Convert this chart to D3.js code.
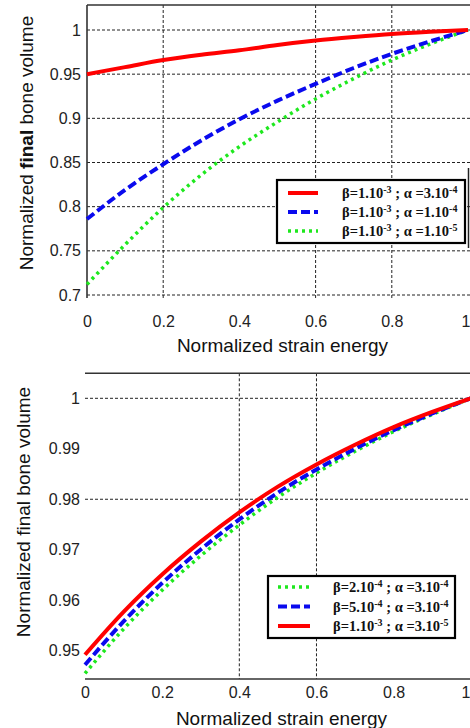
<!DOCTYPE html>
<html>
<head>
<meta charset="utf-8">
<script src="https://cdn.jsdelivr.net/npm/d3@7"></script>
<style>
  html, body { margin: 0; padding: 0; background: #fff; }
  svg { display: block; }
</style>
</head>
<body>
<svg id="chart" width="470" height="728"></svg>
<script>
// ---------------- DATA ----------------
const xValues = [0, 0.1, 0.2, 0.3, 0.4, 0.5, 0.6, 0.7, 0.8, 0.9, 1.0];

// Top panel (beta = 1e-3, varying alpha)
const topRed   = [0.950, 0.958, 0.966, 0.972, 0.977, 0.983, 0.988, 0.992, 0.9955, 0.998, 1.0];
const topBlue  = [0.786, 0.819, 0.848, 0.875, 0.899, 0.920, 0.939, 0.957, 0.973, 0.987, 1.0];
const topGreen = [0.712, 0.757, 0.799, 0.836, 0.868, 0.896, 0.922, 0.945, 0.966, 0.984, 1.0];

// Bottom panel (alpha = 3e-4, varying beta)
const botRed   = [0.9492, 0.9577, 0.9651, 0.9716, 0.9774, 0.9825, 0.9869, 0.9908, 0.9943, 0.9973, 1.0];
const botBlue  = [0.9472, 0.9558, 0.9634, 0.97005, 0.9760, 0.9813, 0.9859, 0.9900, 0.9937, 0.9970, 1.0];
const botGreen = [0.9455, 0.9543, 0.9620, 0.9688, 0.9749, 0.9804, 0.9852, 0.9895, 0.9934, 0.9968, 1.0];

const xTicks = [0, 0.2, 0.4, 0.6, 0.8, 1];
const xTickLabels = ["0", "0.2", "0.4", "0.6", "0.8", "1"];
const topYTicks = [0.7, 0.75, 0.8, 0.85, 0.9, 0.95, 1];
const topYTickLabels = ["0.7", "0.75", "0.8", "0.85", "0.9", "0.95", "1"];
const botYTicks = [0.95, 0.96, 0.97, 0.98, 0.99, 1];
const botYTickLabels = ["0.95", "0.96", "0.97", "0.98", "0.99", "1"];

const topVGrid = [0.2, 0.6, 0.8];
const topHGrid = [0.7, 0.75, 0.8, 0.85, 0.9, 0.95, 1];
const botVGrid = [0.4, 0.6];
const botHGrid = [0.98, 1];

// legend: [beta mantissa, beta exp, alpha mantissa, alpha exp]
const topLegend = [
  ["1.10", "-3", "3.10", "-4"],
  ["1.10", "-3", "1.10", "-4"],
  ["1.10", "-3", "1.10", "-5"]
];
const botLegend = [
  ["2.10", "-4", "3.10", "-4"],
  ["5.10", "-4", "3.10", "-4"],
  ["1.10", "-3", "3.10", "-5"]
];

const xTitle = "Normalized strain energy";

// ---------------- STYLES ----------------
const RED = "#ff0000", BLUE = "#0a0aee", GREEN = "#1ee81e";
const styles = {
  red:   { color: RED,   width: 4,   dash: null },
  blue:  { color: BLUE,  width: 4,   dash: "9,4" },
  green: { color: GREEN, width: 3.5, dash: "3,4" }
};

const svg = d3.select("#chart");
const sans = "'Liberation Sans', Arial, Helvetica, sans-serif";
const serif = "'Liberation Serif', 'Times New Roman', serif";
const gridColor = "#222";

function drawPanel(cfg) {
  const g = svg.append("g");
  const x = d3.scaleLinear().domain([0, 1]).range([cfg.x0, cfg.x1]);
  const y = d3.scaleLinear().domain(cfg.yDomain).range(cfg.yRange);

  // gridlines
  g.selectAll(".hg").data(cfg.hGrid).join("line")
    .attr("x1", cfg.x0).attr("x2", 470)
    .attr("y1", d => y(d)).attr("y2", d => y(d))
    .attr("stroke", gridColor).attr("stroke-width", 1)
    .attr("stroke-dasharray", "3,2");
  g.selectAll(".vg").data(cfg.vGrid).join("line")
    .attr("x1", d => x(d)).attr("x2", d => x(d))
    .attr("y1", cfg.frameTop).attr("y2", cfg.frameBottom)
    .attr("stroke", gridColor).attr("stroke-width", 1)
    .attr("stroke-dasharray", "3,2");

  // frame
  g.append("line").attr("x1", cfg.x0).attr("x2", 470)
    .attr("y1", cfg.frameTop).attr("y2", cfg.frameTop)
    .attr("stroke", "#333").attr("stroke-width", 1.6);
  if (cfg.leftAxis) {
    g.append("line").attr("x1", cfg.x0).attr("x2", cfg.x0)
      .attr("y1", cfg.frameTop).attr("y2", cfg.frameBottom)
      .attr("stroke", "#333").attr("stroke-width", 1.6);
  }
  if (cfg.bottomAxis) {
    g.append("line").attr("x1", cfg.x0).attr("x2", 470)
      .attr("y1", cfg.frameBottom).attr("y2", cfg.frameBottom)
      .attr("stroke", "#333").attr("stroke-width", 1.6);
  }

  // y axis labels
  const yAxis = d3.axisLeft(y).tickValues(cfg.yTicks)
    .tickFormat((d, i) => cfg.yTickLabels[i]).tickSize(0).tickPadding(cfg.yPad);
  const ya = g.append("g").attr("transform", `translate(${cfg.x0},0)`).call(yAxis);
  ya.select(".domain").remove();
  ya.selectAll("text").attr("font-family", sans).attr("font-size", 16).attr("fill", "#222");

  // x axis labels
  const xAxis = d3.axisBottom(x).tickValues(xTicks)
    .tickFormat((d, i) => xTickLabels[i]).tickSize(0).tickPadding(cfg.xPad);
  const xa = g.append("g").attr("transform", `translate(0,${cfg.frameBottom})`).call(xAxis);
  xa.select(".domain").remove();
  xa.selectAll("text").attr("font-family", sans).attr("font-size", 16).attr("fill", "#222");
  // keep the last label (at the clipped right edge) inside the page
  xa.selectAll("text").filter(d => d === 1)
    .attr("text-anchor", "end").attr("dx", cfg.lastDx);

  // axis titles
  g.append("text").attr("x", (cfg.x0 + 470) / 2 + 4).attr("y", cfg.xTitleY)
    .attr("text-anchor", "middle").attr("font-family", sans).attr("font-size", 19)
    .attr("fill", "#111").text(xTitle);
  const yt = g.append("text")
    .attr("transform", `translate(${cfg.yTitleX},${cfg.yTitleY}) rotate(-90)`)
    .attr("text-anchor", "middle").attr("font-family", sans).attr("font-size", 19)
    .attr("fill", "#111");
  yt.append("tspan").text("Normalized ");
  yt.append("tspan").attr("font-weight", cfg.boldFinal ? "bold" : "normal").text("final");
  yt.append("tspan").text(" bone volume");

  // curves
  const line = d3.line().x((d, i) => x(xValues[i])).y(d => y(d)).curve(d3.curveMonotoneX);
  cfg.series.forEach(s => {
    const st = styles[s.style];
    g.append("path").datum(s.values)
      .attr("d", line).attr("fill", "none")
      .attr("stroke", st.color).attr("stroke-width", st.width)
      .attr("stroke-dasharray", st.dash);
  });

  // legend
  const L = cfg.legend;
  g.append("rect").attr("x", L.x).attr("y", L.y).attr("width", L.w).attr("height", L.h)
    .attr("fill", "#fff").attr("stroke", "#000").attr("stroke-width", 2.2);
  L.entries.forEach((e, i) => {
    const st = styles[e.style];
    const cy = L.y + L.rowStart + i * L.rowGap;
    g.append("line").attr("x1", L.sx0).attr("x2", L.sx1).attr("y1", cy).attr("y2", cy)
      .attr("stroke", st.color).attr("stroke-width", st.width)
      .attr("stroke-dasharray", st.dash);
    const t = g.append("text").attr("x", L.tx).attr("y", cy + 5)
      .attr("font-family", serif).attr("font-weight", "bold").attr("font-size", 14.5)
      .attr("fill", "#111");
    const lab = e.label;
    t.append("tspan").text("\u03b2=" + lab[0]);
    t.append("tspan").attr("dy", -5).attr("font-size", 10).text(lab[1]);
    t.append("tspan").attr("dy", 5).text(" ; \u03b1 =" + lab[2]);
    t.append("tspan").attr("dy", -5).attr("font-size", 10).text(lab[3]);
  });
  if (L.sideLine) {
    g.append("line").attr("x1", 468.5).attr("x2", 468.5)
      .attr("y1", L.sideLine[0]).attr("y2", L.sideLine[1])
      .attr("stroke", "#222").attr("stroke-width", 1.5);
  }
}

// Top panel
drawPanel({
  x0: 87, x1: 468,
  yDomain: [0.7, 1], yRange: [295, 30],
  frameTop: 5, frameBottom: 298,
  leftAxis: true, bottomAxis: false,
  hGrid: topHGrid, vGrid: topVGrid,
  yTicks: topYTicks, yTickLabels: topYTickLabels, yPad: 6, xPad: 18, lastDx: 2,
  xTitleY: 352, yTitleX: 33, yTitleY: 143, boldFinal: true,
  series: [
    { values: topGreen, style: "green" },
    { values: topBlue, style: "blue" },
    { values: topRed, style: "red" }
  ],
  legend: {
    x: 277, y: 180, w: 188, h: 63, rowStart: 13, rowGap: 19,
    sx0: 288, sx1: 318, tx: 342, sideLine: [168, 248],
    entries: [
      { style: "red", label: topLegend[0] },
      { style: "blue", label: topLegend[1] },
      { style: "green", label: topLegend[2] }
    ]
  }
});

// Bottom panel
drawPanel({
  x0: 85, x1: 470.8,
  yDomain: [0.95, 1], yRange: [650.7, 398.3],
  frameTop: 373.3, frameBottom: 679,
  leftAxis: false, bottomAxis: true,
  hGrid: botHGrid, vGrid: botVGrid,
  yTicks: botYTicks, yTickLabels: botYTickLabels, yPad: 5, xPad: 8, lastDx: -1,
  xTitleY: 725, yTitleX: 30, yTitleY: 512, boldFinal: false,
  series: [
    { values: botGreen, style: "green" },
    { values: botBlue, style: "blue" },
    { values: botRed, style: "red" }
  ],
  legend: {
    x: 268, y: 576, w: 187, h: 62, rowStart: 11, rowGap: 19.5,
    sx0: 278, sx1: 310, tx: 333, sideLine: null,
    entries: [
      { style: "green", label: botLegend[0] },
      { style: "blue", label: botLegend[1] },
      { style: "red", label: botLegend[2] }
    ]
  }
});
</script>
</body>
</html>
